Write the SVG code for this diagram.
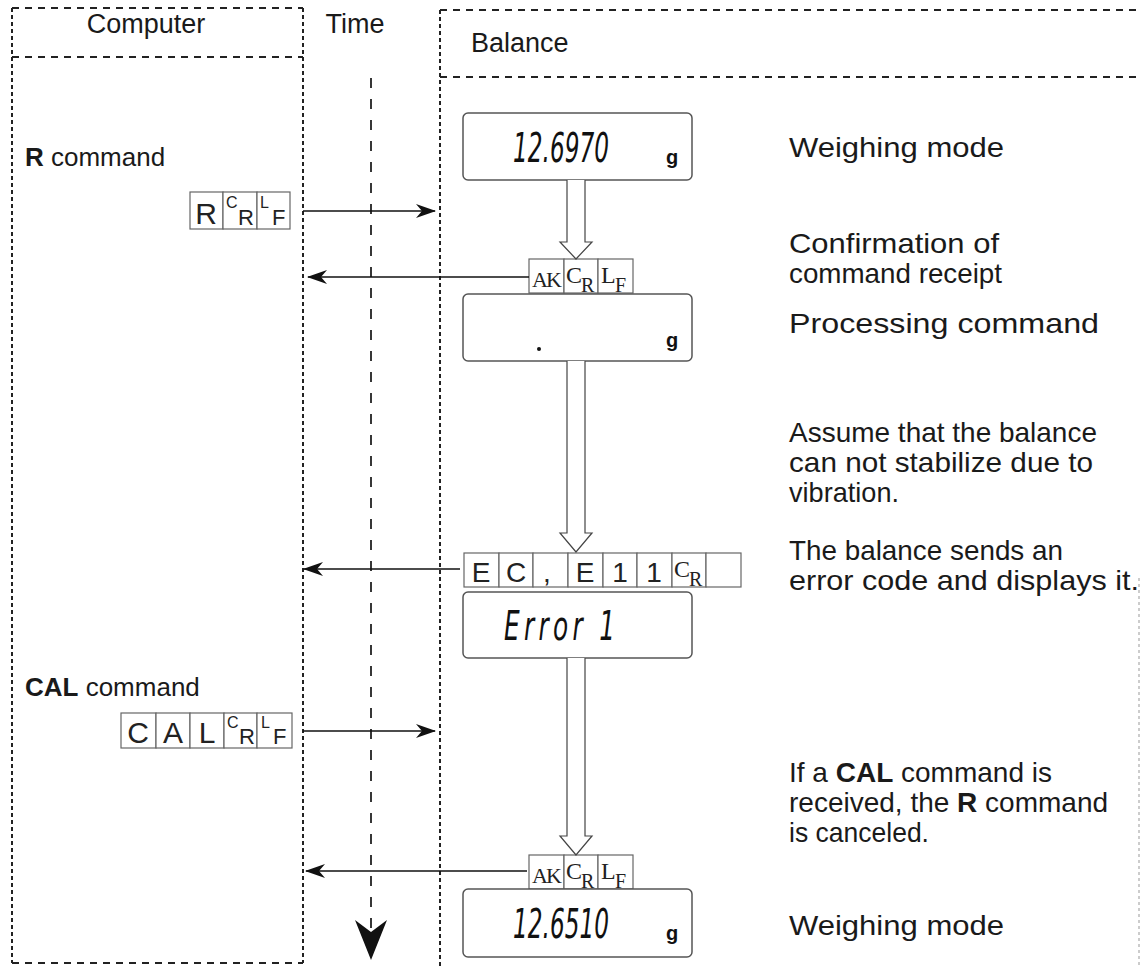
<svg xmlns="http://www.w3.org/2000/svg" width="1142" height="967" viewBox="0 0 1142 967">
<defs>
<style>
.lbl{font-family:"Liberation Sans",Arial,sans-serif;font-size:27px;fill:#1a1a1a}
.note{font-family:"Liberation Sans",Arial,sans-serif;font-size:28px;fill:#1a1a1a}
.left{font-family:"Liberation Sans",Arial,sans-serif;font-size:26px;fill:#1a1a1a}
.b{font-weight:bold}
.hd{stroke:#222;stroke-width:2;stroke-dasharray:7 6;fill:none}
.vd{stroke:#222;stroke-width:2;stroke-dasharray:4 3;fill:none}
.tl{stroke:#222;stroke-width:1.8;stroke-dasharray:10 11;fill:none}
.cell{fill:#fff;stroke:#666;stroke-width:1.2}
.disp{fill:#fff;stroke:#555;stroke-width:1.5}
.seg{font-family:"DejaVu Sans","Liberation Sans",sans-serif;font-weight:200;font-style:oblique;font-size:40px;fill:#111}
.g{font-family:"Liberation Sans",Arial,sans-serif;font-weight:bold;font-size:20px;fill:#111}
.sans{font-family:"Liberation Sans",Arial,sans-serif;fill:#222}
.serif{font-family:"Liberation Serif","Times New Roman",serif;fill:#222}
.conn{stroke:#111;stroke-width:1.5;fill:none}
.hollow{stroke:#444;stroke-width:1.2;fill:#fff}
</style>
<marker id="ah" viewBox="0 0 20 14" refX="19" refY="7" markerWidth="20" markerHeight="14" markerUnits="userSpaceOnUse" orient="auto">
<path d="M0,0 L20,7 L0,14 L6,7 Z" fill="#111"/>
</marker>
</defs>
<rect width="1142" height="967" fill="#fff"/>

<g id="computer">
<line class="hd" x1="12" y1="8" x2="303" y2="8"/>
<line class="hd" x1="12" y1="57" x2="303" y2="57"/>
<line class="hd" x1="12" y1="963" x2="303" y2="963"/>
<line class="vd" x1="12" y1="8" x2="12" y2="963"/>
<line class="vd" x1="303" y1="8" x2="303" y2="963"/>
<text class="lbl" x="146" y="33" text-anchor="middle">Computer</text>
</g>

<g id="time">
<text class="lbl" x="355" y="33" text-anchor="middle">Time</text>
<line class="tl" x1="371" y1="78" x2="371" y2="930"/>
<path d="M355,920 L371,932 L387,920 L371,960 Z" fill="#111"/>
</g>

<g id="balance">
<line class="hd" x1="440" y1="10" x2="1142" y2="10"/>
<line class="hd" x1="440" y1="77" x2="1142" y2="77"/>
<line class="vd" x1="440" y1="10" x2="440" y2="967"/>
<line x1="1139" y1="578" x2="1139" y2="967" stroke="#999" stroke-width="1" stroke-dasharray="3 3"/>
<text class="lbl" x="471" y="52">Balance</text>
</g>

<g id="r-command">
<text class="left" x="25" y="166"><tspan class="b">R</tspan> command</text>
<rect class="cell" x="190" y="192" width="33" height="37"/>
<rect class="cell" x="223" y="192" width="34" height="37"/>
<rect class="cell" x="257" y="192" width="33" height="37"/>
<text class="sans" x="206" y="224" font-size="30" text-anchor="middle">R</text>
<text class="sans" x="226" y="208" font-size="16">C</text>
<text class="sans" x="238" y="225" font-size="22">R</text>
<text class="sans" x="260" y="208" font-size="16">L</text>
<text class="sans" x="272" y="225" font-size="22">F</text>
</g>

<g id="cal-command">
<text class="left" x="25" y="696"><tspan class="b">CAL</tspan> command</text>
<rect class="cell" x="121" y="713" width="35" height="35"/>
<rect class="cell" x="156" y="713" width="34" height="35"/>
<rect class="cell" x="190" y="713" width="34" height="35"/>
<rect class="cell" x="224" y="713" width="33" height="35"/>
<rect class="cell" x="257" y="713" width="35" height="35"/>
<text class="sans" x="138" y="743" font-size="30" text-anchor="middle">C</text>
<text class="sans" x="173" y="743" font-size="30" text-anchor="middle">A</text>
<text class="sans" x="207" y="743" font-size="30" text-anchor="middle">L</text>
<text class="sans" x="227" y="728" font-size="16">C</text>
<text class="sans" x="239" y="744" font-size="22">R</text>
<text class="sans" x="261" y="728" font-size="16">L</text>
<text class="sans" x="273" y="744" font-size="22">F</text>
</g>

<g id="display1">
<rect class="disp" x="463" y="113" width="229" height="67" rx="5"/>
<text class="seg" transform="translate(513,162) scale(0.58,1)">12.6970</text>
<text class="g" x="672" y="164" text-anchor="middle">g</text>
</g>

<g id="ack1">
<rect class="cell" x="529" y="259" width="35" height="34"/>
<rect class="cell" x="564" y="259" width="34" height="34"/>
<rect class="cell" x="598" y="259" width="35" height="34"/>
<text class="serif" x="546" y="287" font-size="22" text-anchor="middle" letter-spacing="-2">AK</text>
<text class="serif" x="566" y="283" font-size="24">C</text>
<text class="serif" x="581" y="292" font-size="20">R</text>
<text class="serif" x="601" y="283" font-size="24">L</text>
<text class="serif" x="615" y="292" font-size="20">F</text>
</g>

<g id="display2">
<rect class="disp" x="463" y="294" width="229" height="67" rx="5"/>
<circle cx="539" cy="349" r="2" fill="#111"/>
<text class="g" x="672" y="347" text-anchor="middle">g</text>
</g>

<g id="error-code">
<rect class="cell" x="464" y="553" width="35" height="34"/>
<rect class="cell" x="499" y="553" width="34" height="34"/>
<rect class="cell" x="533" y="553" width="35" height="34"/>
<rect class="cell" x="568" y="553" width="35" height="34"/>
<rect class="cell" x="603" y="553" width="34" height="34"/>
<rect class="cell" x="637" y="553" width="35" height="34"/>
<rect class="cell" x="672" y="553" width="34" height="34"/>
<rect class="cell" x="706" y="553" width="35" height="34"/>
<text class="sans" x="481" y="582" font-size="28" text-anchor="middle">E</text>
<text class="sans" x="516" y="582" font-size="28" text-anchor="middle">C</text>
<text class="sans" x="547" y="582" font-size="28" text-anchor="middle">,</text>
<text class="sans" x="585" y="582" font-size="28" text-anchor="middle">E</text>
<text class="sans" x="620" y="582" font-size="28" text-anchor="middle">1</text>
<text class="sans" x="654" y="582" font-size="28" text-anchor="middle">1</text>
<text class="serif" x="674" y="577" font-size="24">C</text>
<text class="serif" x="689" y="586" font-size="20">R</text>
</g>

<g id="display3">
<rect class="disp" x="463" y="592" width="229" height="66" rx="5"/>
<text class="seg" transform="translate(504,640) scale(0.62,1)" letter-spacing="7">Error 1</text>
</g>

<g id="ack2">
<rect class="cell" x="529" y="855" width="35" height="34"/>
<rect class="cell" x="564" y="855" width="34" height="34"/>
<rect class="cell" x="598" y="855" width="35" height="34"/>
<text class="serif" x="546" y="883" font-size="22" text-anchor="middle" letter-spacing="-2">AK</text>
<text class="serif" x="566" y="879" font-size="24">C</text>
<text class="serif" x="581" y="888" font-size="20">R</text>
<text class="serif" x="601" y="879" font-size="24">L</text>
<text class="serif" x="615" y="888" font-size="20">F</text>
</g>

<g id="display4">
<rect class="disp" x="463" y="889" width="229" height="68" rx="5"/>
<text class="seg" transform="translate(513,938) scale(0.58,1)">12.6510</text>
<text class="g" x="672" y="940" text-anchor="middle">g</text>
</g>

<g id="notes">
<text class="note" x="789" y="157" textLength="215" lengthAdjust="spacingAndGlyphs">Weighing mode</text>
<text class="note" x="789" y="253" textLength="210" lengthAdjust="spacingAndGlyphs">Confirmation of</text>
<text class="note" x="789" y="283" textLength="213" lengthAdjust="spacingAndGlyphs">command receipt</text>
<text class="note" x="789" y="333" textLength="310" lengthAdjust="spacingAndGlyphs">Processing command</text>
<text class="note" x="789" y="442" textLength="308" lengthAdjust="spacingAndGlyphs">Assume that the balance</text>
<text class="note" x="789" y="472" textLength="304" lengthAdjust="spacingAndGlyphs">can not stabilize due to</text>
<text class="note" x="789" y="502" textLength="110" lengthAdjust="spacingAndGlyphs">vibration.</text>
<text class="note" x="789" y="560" textLength="274" lengthAdjust="spacingAndGlyphs">The balance sends an</text>
<text class="note" x="789" y="590" textLength="350" lengthAdjust="spacingAndGlyphs">error code and displays it.</text>
<text class="note" x="789" y="782" font-size="27">If a <tspan class="b">CAL</tspan> command is</text>
<text class="note" x="789" y="812" font-size="27">received, the <tspan class="b">R</tspan> command</text>
<text class="note" x="789" y="842" textLength="140" lengthAdjust="spacingAndGlyphs">is canceled.</text>
<text class="note" x="789" y="935" textLength="215" lengthAdjust="spacingAndGlyphs">Weighing mode</text>
</g>

<g id="connectors">
<line class="conn" x1="303" y1="211" x2="435" y2="211" marker-end="url(#ah)"/>
<line class="conn" x1="529" y1="277" x2="308" y2="277" marker-end="url(#ah)"/>
<line class="conn" x1="460" y1="569" x2="304" y2="569" marker-end="url(#ah)"/>
<line class="conn" x1="303" y1="731" x2="435" y2="731" marker-end="url(#ah)"/>
<line class="conn" x1="527" y1="871" x2="306" y2="871" marker-end="url(#ah)"/>
<path class="hollow" d="M567,180 V242 H560 L576,259 L592,242 H585 V180"/>
<path class="hollow" d="M567,361 V533 H560 L576,552 L592,533 H585 V361"/>
<path class="hollow" d="M567,658 V836 H560 L576,855 L592,836 H585 V658"/>
</g>
</svg>
